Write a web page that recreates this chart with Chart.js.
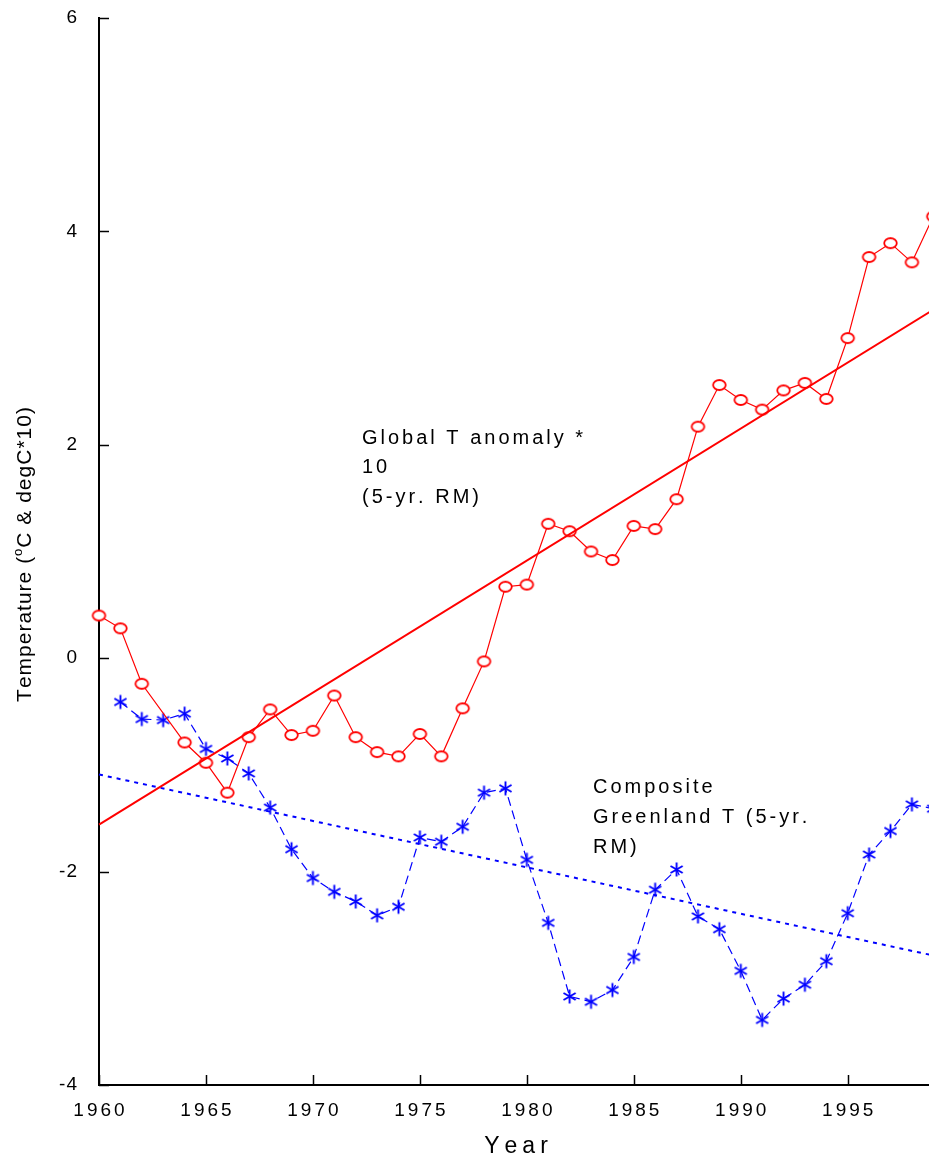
<!DOCTYPE html>
<html>
<head>
<meta charset="utf-8">
<script src="https://cdn.jsdelivr.net/npm/chart.js@4.4.0/dist/chart.umd.min.js"></script>
<style>
  html, body { margin: 0; padding: 0; background: #fff; overflow: hidden; }
  canvas { display: block; }
</style>
</head>
<body>
<canvas id="tempChart" width="929" height="1163"></canvas>
<script>
// Datos
const years = [1960, 1961, 1962, 1963, 1964, 1965, 1966, 1967, 1968, 1969,
               1970, 1971, 1972, 1973, 1974, 1975, 1976, 1977, 1978, 1979,
               1980, 1981, 1982, 1983, 1984, 1985, 1986, 1987, 1988, 1989,
               1990, 1991, 1992, 1993, 1994, 1995, 1996, 1997, 1998, 1999];

// Global T anomaly * 10 (5-yr. RM)
const globalT = [0.40, 0.28, -0.24, null, -0.79, -0.98, -1.26, -0.74, -0.48, -0.72,
                 -0.68, -0.35, -0.74, -0.88, -0.92, -0.71, -0.92, -0.47, -0.03, 0.67,
                 0.69, 1.26, 1.19, 1.00, 0.92, 1.24, 1.21, 1.49, 2.17, 2.56,
                 2.42, 2.33, 2.51, 2.58, 2.43, 3.00, 3.76, 3.89, 3.71, 4.14];

// Composite Greenland T (5-yr. RM)
const greenlandT = [null, -0.41, -0.57, -0.58, -0.52, -0.85, -0.94, -1.08, -1.40, -1.79,
                    -2.06, -2.19, -2.28, -2.41, -2.33, -1.68, -1.72, -1.58, -1.26, -1.22,
                    -1.89, -2.48, -3.17, -3.22, -3.11, -2.80, -2.17, -1.98, -2.42, -2.54,
                    -2.93, -3.39, -3.19, -3.06, -2.84, -2.39, -1.84, -1.62, -1.37, -1.41];

// Rectas de tendencia (extremos)
const trendYears = [1960, 2000];
const globalTrend = [-1.56, 3.39];
const greenlandTrend = [-1.09, -2.83];

const xTicks = [1960, 1965, 1970, 1975, 1980, 1985, 1990, 1995];
const yTicks = [-4, -2, 0, 2, 4, 6];

const FONT = "'Liberation Sans', Arial, sans-serif";
const RED = '#ff0000';
const BLUE = '#0000ff';

const toXY = (xs, ys) => xs.map((x, i) => ({ x: x, y: ys[i] }));

// Símbolos: círculo hueco (elipse) y asterisco
function makeCircle() {
    const c = document.createElement('canvas');
    c.width = 17; c.height = 14;
    const g = c.getContext('2d');
    g.beginPath();
    g.ellipse(8.5, 7, 6.3, 5.0, 0, 0, Math.PI * 2);
    g.fillStyle = '#fff';
    g.fill();
    g.lineWidth = 1.8;
    g.strokeStyle = RED;
    g.stroke();
    return c;
}

function makeStar() {
    const c = document.createElement('canvas');
    c.width = 17; c.height = 17;
    const g = c.getContext('2d');
    g.strokeStyle = BLUE;
    g.lineWidth = 1.9;
    const r = 7;
    [90, 30, 150].forEach(a => {
        const rad = a * Math.PI / 180;
        g.beginPath();
        g.moveTo(8.5 - r * Math.cos(rad), 8.5 - r * Math.sin(rad));
        g.lineTo(8.5 + r * Math.cos(rad), 8.5 + r * Math.sin(rad));
        g.stroke();
    });
    return c;
}

function spacedText(ctx, text, x, y, spacing, align) {
    const chars = [...text];
    const widths = chars.map(ch => ctx.measureText(ch).width);
    const total = widths.reduce((a, b) => a + b, 0) + spacing * (chars.length - 1);
    let pos = align === 'center' ? x - total / 2 : align === 'right' ? x - total : x;
    ctx.textAlign = 'left';
    chars.forEach((ch, i) => {
        ctx.fillText(ch, pos, y);
        pos += widths[i] + spacing;
    });
    return total;
}

// Ejes, marcas interiores y textos
const decorPlugin = {
    id: 'decor',
    afterDraw(chart) {
        const ctx = chart.ctx;
        const xs = chart.scales.x;
        const ys = chart.scales.y;
        const area = chart.chartArea;
        const tick = 10;

        ctx.save();
        ctx.strokeStyle = '#000';
        ctx.lineWidth = 1.5;
        yTicks.forEach(v => {
            const py = Math.round(ys.getPixelForValue(v)) + 0.5;
            ctx.beginPath();
            ctx.moveTo(area.left, py);
            ctx.lineTo(area.left + tick, py);
            ctx.stroke();
        });
        xTicks.forEach(v => {
            const px = Math.round(xs.getPixelForValue(v)) + 0.5;
            ctx.beginPath();
            ctx.moveTo(px, area.bottom);
            ctx.lineTo(px, area.bottom - tick);
            ctx.stroke();
        });

        ctx.fillStyle = '#000';
        ctx.textBaseline = 'middle';
        ctx.font = '19px ' + FONT;
        yTicks.forEach(v => {
            spacedText(ctx, String(v), area.left - 22, ys.getPixelForValue(v), 1, 'right');
        });
        xTicks.forEach(v => {
            spacedText(ctx, String(v), xs.getPixelForValue(v), 1111, 3, 'center');
        });

        ctx.font = '23px ' + FONT;
        spacedText(ctx, 'Year', 516, 1147, 5, 'center');

        // Anotaciones
        ctx.font = '20px ' + FONT;
        const globalLabel = ['Global T anomaly *', '10', '(5-yr. RM)'];
        globalLabel.forEach((t, i) => spacedText(ctx, t, 362, 438 + i * 29.5, 3, 'left'));
        const greenLabel = ['Composite', 'Greenland T (5-yr.', 'RM)'];
        greenLabel.forEach((t, i) => spacedText(ctx, t, 593, 787 + i * 30, 3, 'left'));

        // Título eje Y con superíndice
        ctx.translate(31, 554);
        ctx.rotate(-Math.PI / 2);
        ctx.textBaseline = 'alphabetic';
        const big = '21px ' + FONT;
        const small = '13px ' + FONT;
        const parts = [
            { t: 'Temperature (', f: big, dy: 0 },
            { t: 'o', f: small, dy: -9 },
            { t: 'C & degC*10)', f: big, dy: 0 }
        ];
        const sp = 1;
        let total = 0;
        parts.forEach(p => {
            ctx.font = p.f;
            p.w = [...p.t].reduce((a, ch) => a + ctx.measureText(ch).width + sp, 0);
            total += p.w;
        });
        let pos = -total / 2;
        parts.forEach(p => {
            ctx.font = p.f;
            spacedText(ctx, p.t, pos, p.dy, sp, 'left');
            pos += p.w;
        });
        ctx.restore();
    }
};

const ctx = document.getElementById('tempChart').getContext('2d');

new Chart(ctx, {
    type: 'line',
    data: {
        datasets: [
            {
                label: 'Global trend',
                data: toXY(trendYears, globalTrend),
                borderColor: RED,
                borderWidth: 2,
                pointRadius: 0,
                clip: false
            },
            {
                label: 'Greenland trend',
                data: toXY(trendYears, greenlandTrend),
                borderColor: BLUE,
                borderWidth: 2,
                borderDash: [4, 5],
                pointRadius: 0,
                clip: false
            },
            {
                label: 'Global T anomaly * 10 (5-yr. RM)',
                data: toXY(years, globalT),
                borderColor: RED,
                borderWidth: 1.2,
                pointStyle: makeCircle(),
                pointRadius: 6,
                spanGaps: true,
                clip: false
            },
            {
                label: 'Composite Greenland T (5-yr. RM)',
                data: toXY(years, greenlandT),
                borderColor: BLUE,
                borderWidth: 1.2,
                borderDash: [9, 5],
                pointStyle: makeStar(),
                pointRadius: 6,
                spanGaps: true,
                clip: false
            }
        ]
    },
    options: {
        responsive: false,
        animation: false,
        layout: {
            autoPadding: false,
            padding: { top: 18, left: 0, right: 0, bottom: 0 }
        },
        plugins: {
            legend: { display: false },
            tooltip: { enabled: false }
        },
        scales: {
            x: {
                type: 'linear',
                min: 1960,
                max: 1998.8,
                grid: { display: false, drawTicks: false },
                border: { display: true, color: '#000', width: 2 },
                ticks: { display: false },
                afterFit: s => { s.height = 78; }
            },
            y: {
                type: 'linear',
                min: -4,
                max: 6,
                grid: { display: false, drawTicks: false },
                border: { display: true, color: '#000', width: 2 },
                ticks: { display: false },
                afterFit: s => { s.width = 99; }
            }
        }
    },
    plugins: [decorPlugin]
});
</script>
</body>
</html>
